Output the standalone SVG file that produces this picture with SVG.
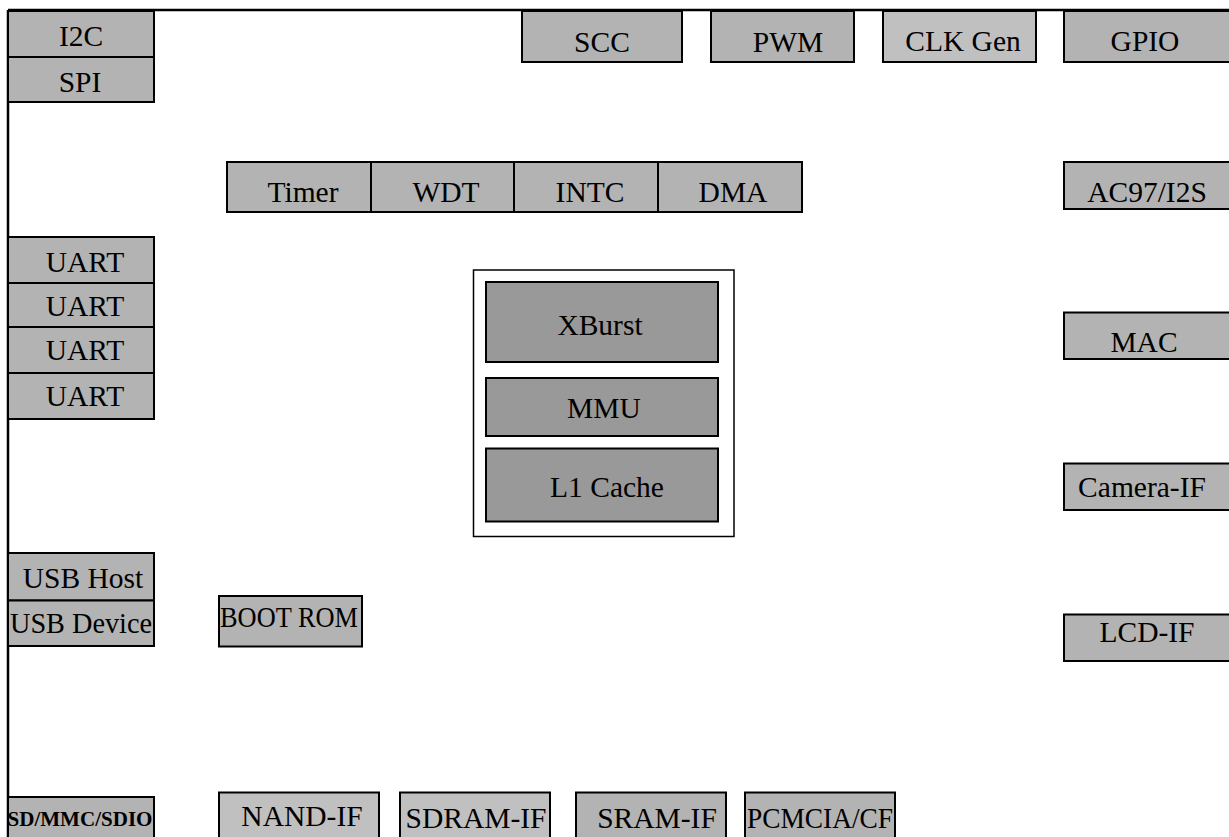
<svg xmlns="http://www.w3.org/2000/svg" width="1229" height="837" viewBox="0 0 1229 837">
<style>
.b{fill:#b3b3b3;stroke:#000;stroke-width:2}
.l{fill:#c0c0c0;stroke:#000;stroke-width:2}
.c{fill:#999999;stroke:#000;stroke-width:2}
text{font-family:"Liberation Serif","Times New Roman",serif;font-size:29.5px;fill:#000;text-anchor:middle}
.sd{font-weight:bold;font-size:21.5px}
</style>
<rect width="1229" height="837" fill="#fff"/>
<g id="frame">
<line x1="8" y1="10" x2="1229" y2="10" stroke="#000" stroke-width="2.5"/>
<line x1="8" y1="10" x2="8" y2="837" stroke="#000" stroke-width="2.5"/>
</g>
<g id="connectors"></g>
<g id="i2c"><rect class="b" x="8" y="11" width="146" height="46"/><text x="81" y="46">I2C</text></g>
<g id="spi"><rect class="b" x="8" y="57" width="146" height="45"/><text x="80" y="92">SPI</text></g>
<g id="scc"><rect class="b" x="522" y="11" width="160" height="51"/><text x="602" y="52">SCC</text></g>
<g id="pwm"><rect class="b" x="711" y="11" width="143" height="51"/><text x="788" y="52">PWM</text></g>
<g id="clkgen"><rect class="l" x="883" y="11" width="153" height="51"/><text x="963" y="51">CLK Gen</text></g>
<g id="gpio"><rect class="b" x="1064" y="11" width="180" height="51"/><text x="1145" y="51">GPIO</text></g>
<g id="timer"><rect class="b" x="227" y="162" width="144" height="50"/><text x="303" y="202">Timer</text></g>
<g id="wdt"><rect class="b" x="371" y="162" width="143" height="50"/><text x="446" y="202">WDT</text></g>
<g id="intc"><rect class="b" x="514" y="162" width="144" height="50"/><text x="590" y="202">INTC</text></g>
<g id="dma"><rect class="b" x="658" y="162" width="144" height="50"/><text x="733" y="202">DMA</text></g>
<g id="ac97"><rect class="b" x="1064" y="162" width="180" height="47"/><text x="1147" y="202">AC97/I2S</text></g>
<g id="uart1"><rect class="b" x="8" y="237" width="146" height="46"/><text x="85" y="272">UART</text></g>
<g id="uart2"><rect class="b" x="8" y="283" width="146" height="44"/><text x="85" y="316">UART</text></g>
<g id="uart3"><rect class="b" x="8" y="327" width="146" height="46"/><text x="85" y="360">UART</text></g>
<g id="uart4"><rect class="b" x="8" y="373" width="146" height="46"/><text x="85" y="406">UART</text></g>
<g id="cpu">
<rect x="473.5" y="270" width="260.5" height="266.5" fill="#fff" stroke="#000" stroke-width="1.5"/>
</g>
<g id="xburst"><rect class="c" x="486" y="282" width="232" height="80"/><text x="600" y="335">XBurst</text></g>
<g id="mmu"><rect class="c" x="486" y="378" width="232" height="58"/><text x="604" y="418">MMU</text></g>
<g id="l1cache"><rect class="c" x="486" y="448.5" width="232" height="73"/><text x="607" y="497">L1 Cache</text></g>
<g id="mac"><rect class="b" x="1064" y="312.5" width="180" height="46.5"/><text x="1144" y="352">MAC</text></g>
<g id="camera"><rect class="b" x="1064" y="463.5" width="180" height="46.5"/><text x="1142" y="497">Camera-IF</text></g>
<g id="lcd"><rect class="b" x="1064" y="614.5" width="180" height="46.5"/><text x="1147" y="642">LCD-IF</text></g>
<g id="usbhost"><rect class="b" x="8" y="553" width="146" height="47.5"/><text x="83" y="588">USB Host</text></g>
<g id="usbdevice"><rect class="b" x="8" y="600.5" width="146" height="45.5"/><text x="81" y="633" textLength="142" lengthAdjust="spacingAndGlyphs">USB Device</text></g>
<g id="bootrom"><rect class="b" x="219" y="596" width="143" height="50.5"/><text x="289" y="627" textLength="138" lengthAdjust="spacingAndGlyphs">BOOT ROM</text></g>
<g id="sdmmc"><rect class="b" x="8" y="797" width="146" height="50"/><text class="sd" x="80" y="826" textLength="145" lengthAdjust="spacingAndGlyphs">SD/MMC/SDIO</text></g>
<g id="nand"><rect class="l" x="219" y="792.5" width="160" height="55"/><text x="302" y="826">NAND-IF</text></g>
<g id="sdram"><rect class="l" x="400" y="792.5" width="150" height="55"/><text x="476" y="828">SDRAM-IF</text></g>
<g id="sram"><rect class="b" x="576" y="792.5" width="150" height="55"/><text x="657" y="828">SRAM-IF</text></g>
<g id="pcmcia"><rect class="b" x="745" y="792.5" width="150" height="55"/><text x="820" y="828" textLength="146" lengthAdjust="spacingAndGlyphs">PCMCIA/CF</text></g>
</svg>
